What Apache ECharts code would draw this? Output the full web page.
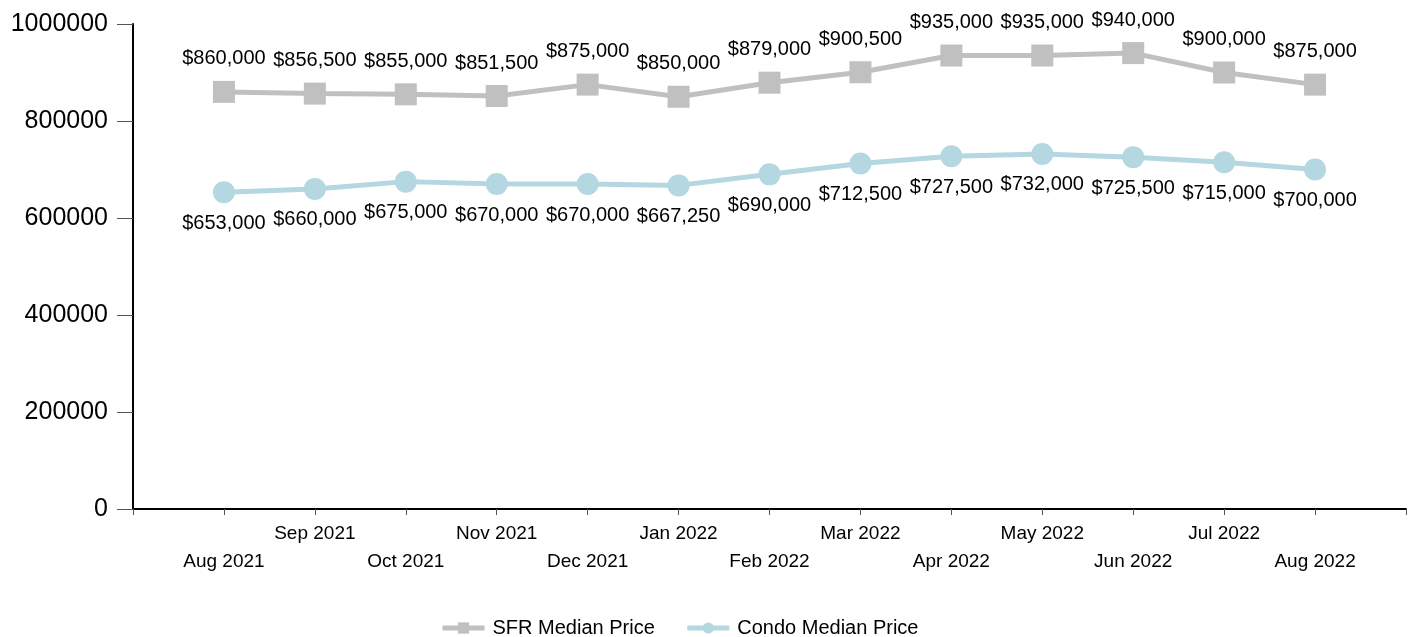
<!DOCTYPE html>
<html>
<head>
<meta charset="utf-8">
<script src="https://cdn.jsdelivr.net/npm/echarts@6/dist/echarts.min.js"></script>
<style>html,body{margin:0;padding:0;background:#fff}#c{width:1414px;height:637px}</style>
</head>
<body>
<div id="c"></div>
<script>
var months = ['Aug 2021','Sep 2021','Oct 2021','Nov 2021','Dec 2021','Jan 2022','Feb 2022','Mar 2022','Apr 2022','May 2022','Jun 2022','Jul 2022','Aug 2022'];
var sfrMedian = [860000, 856500, 855000, 851500, 875000, 850000, 879000, 900500, 935000, 935000, 940000, 900000, 875000];
var condoMedian = [653000, 660000, 675000, 670000, 670000, 667250, 690000, 712500, 727500, 732000, 725500, 715000, 700000];
var yTicks = [0, 200000, 400000, 600000, 800000, 1000000];

var axisCats = [''].concat(months).concat(['']);
function pairs(vals){ return months.map(function(m,i){ return [m, vals[i]]; }); }
function money(v){ return '$' + Number(v).toLocaleString('en-US'); }
var FONT = '"Liberation Sans", Arial, sans-serif';

var chart = echarts.init(document.getElementById('c'));
chart.setOption({
  animation: false,
  textStyle: { fontFamily: FONT },
  grid: { left: 133, right: 8, top: 24, bottom: 128, containLabel: false },
  legend: {
    top: 613, left: 435,
    itemWidth: 42, itemHeight: 14, itemGap: 30,
    lineStyle: { width: 5 },
    textStyle: { fontSize: 20, color: '#000', fontFamily: FONT, padding: [0,0,0,3] },
    data: ['SFR Median Price', 'Condo Median Price']
  },
  xAxis: {
    type: 'category',
    data: axisCats,
    boundaryGap: false,
    axisLine: { lineStyle: { color: '#000', width: 2 } },
    axisTick: { show: true, interval: 0, length: 6, lineStyle: { color: '#555', width: 1 } },
    axisLabel: {
      interval: 0, color: '#000', fontSize: 19, fontFamily: FONT, margin: 11, lineHeight: 28,
      formatter: function(v, i){ if(!v) return ''; return (i % 2 === 1) ? '\n' + v : v; }
    },
    splitLine: { show: false }
  },
  yAxis: {
    type: 'value', min: 0, max: 1000000, interval: 200000,
    axisLine: { show: true, lineStyle: { color: '#000', width: 2 } },
    axisTick: { show: true, inside: false, length: 16, lineStyle: { color: '#555', width: 1 } },
    axisLabel: { color: '#000', fontSize: 25, fontFamily: FONT, margin: 25,
      formatter: function(v){ return yTicks.indexOf(v) >= 0 ? String(v) : ''; } },
    splitLine: { show: false }
  },
  series: [
    {
      name: 'SFR Median Price', type: 'line', data: pairs(sfrMedian),
      symbol: 'rect', symbolSize: 22,
      itemStyle: { color: '#c0c0c0' },
      lineStyle: { color: '#c0c0c0', width: 5 },
      label: { show: true, position: 'top', distance: 12, color: '#000', fontSize: 20, fontFamily: FONT,
        formatter: function(p){ return money(p.value[1]); } }
    },
    {
      name: 'Condo Median Price', type: 'line', data: pairs(condoMedian),
      symbol: 'circle', symbolSize: 22,
      itemStyle: { color: '#b4d7e1' },
      lineStyle: { color: '#b4d7e1', width: 5 },
      label: { show: true, position: 'bottom', distance: 10, color: '#000', fontSize: 20, fontFamily: FONT,
        formatter: function(p){ return money(p.value[1]); } }
    }
  ]
});
</script>
</body>
</html>
